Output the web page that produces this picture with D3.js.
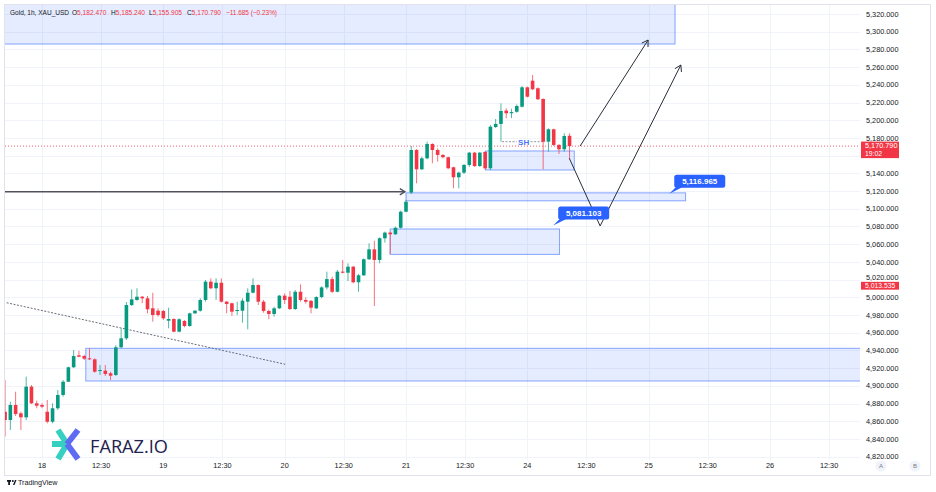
<!DOCTYPE html>
<html><head><meta charset="utf-8">
<script src="https://cdn.jsdelivr.net/npm/d3@7"></script>
<style>body{margin:0;background:#fff}svg{display:block;font-family:"Liberation Sans",Arial,sans-serif}</style>
</head><body><svg id="c" width="936" height="492"></svg>
<script>
// ---------- DATA ----------
const firstBar = -7; // bar index of first candle (0 = first bar of day 18)
const opens = [4870.8,4861.4,4878.4,4869.0,4864.5,4899.1,4880.3,4878.4,4870.8,4859.5,4874.7,4889.7,4904.7,4921.0,4934.5,4933.7,4931.1,4930.0,4917.2,4917.2,4914.2,4912.3,4943.6,4953.7,4991.3,4997.0,5000.7,4998.9,4987.6,4984.9,4984.6,4973.6,4975.5,4961.2,4973.3,4967.6,4981.9,4984.9,4997.0,5017.7,5010.2,5016.5,4995.1,4993.3,4984.6,4984.9,4995.1,5005.2,5013.9,4995.1,4984.6,4981.2,4987.6,5001.9,5000.7,4986.8,5006.3,4997.0,4996.0,4987.6,5000.3,5011.2,5020.6,5006.3,5029.0,5027.8,5034.6,5017.0,5024.9,5043.0,5054.2,5042.2,5066.7,5073.1,5071.2,5078.6,5096.7,5118.3,5166.4,5144.6,5157.0,5173.2,5166.4,5160.8,5158.2,5146.9,5135.6,5140.8,5149.5,5163.4,5148.3,5164.2,5145.8,5192.4,5195.8,5210.9,5207.9,5209.6,5215.3,5237.2,5244.7,5236.1,5224.0,5175.8,5189.8,5172.1,5167.2,5182.47];
const highs = [4906.6,4882.1,4893.4,4870.8,4910.4,4901.0,4883.3,4880.3,4884.0,4880.3,4895.3,4906.6,4921.7,4940.5,4939.7,4935.2,4942.4,4931.1,4923.6,4923.6,4916.0,4946.2,4965.0,4994.7,5008.9,5010.2,5001.5,5001.5,5005.1,4987.6,4985.7,4988.3,4976.3,4976.3,4974.4,4982.6,4985.7,4998.9,5019.6,5021.4,5021.4,5021.4,4995.9,4994.0,4995.1,4998.9,5010.2,5021.5,5014.6,4997.0,4986.0,4989.4,5002.6,5004.5,5007.2,5008.3,5014.6,5000.0,4997.0,5001.2,5012.5,5029.0,5023.3,5030.9,5042.2,5038.4,5035.4,5026.4,5044.1,5061.0,5064.0,5067.8,5074.2,5074.2,5079.8,5097.9,5110.0,5171.0,5167.5,5158.8,5175.8,5174.0,5168.3,5161.9,5158.8,5147.5,5142.0,5150.6,5164.2,5164.2,5164.2,5165.3,5194.6,5201.4,5219.1,5213.5,5213.0,5218.0,5238.7,5238.0,5251.1,5237.2,5224.8,5190.9,5190.5,5173.2,5185.3,5185.24];
const lows = [4842.7,4850.2,4866.0,4850.2,4861.4,4879.5,4874.7,4874.7,4857.7,4857.7,4872.8,4887.8,4904.4,4920.2,4932.3,4929.2,4929.2,4914.9,4912.3,4911.1,4906.6,4911.1,4942.4,4951.8,4990.2,4996.2,4993.3,4981.9,4972.5,4978.1,4974.4,4965.0,4960.5,4960.5,4966.1,4966.8,4981.2,4983.8,4995.1,5009.1,4997.0,4994.0,4981.9,4978.9,4980.0,4971.3,4963.9,5004.5,4991.3,4982.6,4975.2,4978.1,4986.8,4992.5,4985.7,4985.7,4995.1,4993.0,4981.9,4986.8,4999.0,5009.0,5004.9,5005.7,5027.1,5018.4,5015.9,5006.4,5024.1,5042.2,4990.2,5038.4,5061.7,5048.9,5070.5,5077.5,5096.0,5116.7,5128.8,5143.8,5155.9,5151.4,5153.2,5157.0,5144.6,5123.2,5123.2,5139.3,5147.2,5147.2,5147.2,5143.8,5143.8,5191.2,5175.8,5202.2,5202.5,5208.5,5214.4,5225.7,5234.2,5222.9,5144.6,5164.5,5170.9,5161.9,5164.5,5155.905];
const closes = [4861.4,4878.4,4868.2,4864.5,4899.1,4880.3,4877.6,4876.5,4859.5,4874.7,4889.7,4904.7,4921.0,4933.7,4932.9,4930.7,4930.0,4916.0,4917.9,4913.4,4911.5,4943.6,4953.7,4991.3,4997.7,5000.7,4998.9,4986.5,4980.0,4980.0,4976.3,4975.5,4961.2,4975.2,4967.6,4981.9,4984.9,4997.0,5017.7,5010.2,5016.5,4995.1,4992.5,4983.8,4985.7,4996.2,5005.2,5013.9,4995.1,4984.6,4981.2,4987.6,5001.9,4997.0,4986.8,5006.3,4997.0,4995.1,4988.3,5000.3,5011.2,5020.6,5006.3,5029.0,5027.8,5034.6,5017.0,5024.9,5043.0,5054.2,5042.2,5066.7,5073.1,5071.2,5078.6,5096.7,5108.0,5166.4,5144.6,5157.0,5173.2,5166.4,5160.8,5158.2,5145.8,5135.6,5140.8,5149.5,5163.4,5148.3,5163.4,5145.8,5192.7,5195.8,5210.5,5207.9,5209.2,5216.1,5237.2,5226.6,5235.0,5223.7,5175.8,5189.8,5172.1,5167.2,5182.2,5170.79];

const xTickIdx = [0,11.2,23,34.2,46,57.2,69,80.2,92,103.2,115,126.2,138,149.2];
const xTickLabels = ["18","12:30","19","12:30","20","12:30","21","12:30","24","12:30","25","12:30","26","12:30"];
const yTicks = [4820,4840,4860,4880,4900,4920,4940,4960,4980,5000,5020,5040,5060,5080,5100,5120,5140,5160,5180,5200,5220,5240,5260,5280,5300,5320];

// zones: [startBar, endBar, topPrice, bottomPrice]
const zones = [
  [-7.2, 120.0, 5336, 5286.1],
  [84.1, 100.9, 5165.3, 5143.8],
  [69.0, 122.0, 5118.0, 5109.0],
  [66.0, 98.1, 5077.2, 5048.5],
  [8.3, 170, 4942.4, 4905.5]
];
// drawn lines as [bar, price] points
const arrowUp1 = [[102.0, 5170.8],[114.9, 5290.6]];
const arrowUp2 = [[99.96, 5157.0],[105.8, 5080.6],[121.1, 5262.4]];
const arrowFlat = [[-7.2, 5119.3],[68.8, 5119.3]];
const trendLine = [[-6.7, 4993.9],[46.1, 4924.4]];
const shLevel = {from: 87.2, to: 95.4, mid: 91.3, price: 5175.8, text: "SH"};
const priceLabels = [{text:"5,116.965", bar:118.9, price:5116.965},{text:"5,081.103", bar:96.9, price:5081.103}];
const lastPrice = 5170.79, lastTime = "19:02";
const markPrice = 5013.535;
const header = [["Gold, 1h, XAU_USD",""],["O","5,182.470"],["H","5,185.240"],["L","5,155.905"],["C","5,170.790"],["","\u221211.685 (\u22120.23%)"]];

// ---------- DRAW ----------
const svg = d3.select("#c");
const P = {l:5, t:5, r:860, b:460};
const x = d3.scaleLinear().domain([0,138]).range([42,770]);
const y = d3.scaleLinear().domain([4820,5320]).range([456.7,14]);
const GREEN="#089981", RED="#f23645", BLUE="#2962ff", TXT="#131722";
const fmt = d3.format(",.3f");

svg.append("rect").attr("x",4.5).attr("y",4.5).attr("width",926).attr("height",471)
  .attr("fill","#fff").attr("stroke","#e0e3eb");

svg.append("defs").append("clipPath").attr("id","pc").append("rect")
  .attr("x",P.l).attr("y",P.t).attr("width",P.r-P.l).attr("height",P.b-P.t);

// grid
const grid = svg.append("g");
grid.selectAll("line.h").data(yTicks).join("line")
  .attr("x1",P.l).attr("x2",P.r).attr("y1",d=>Math.round(y(d))+0.5).attr("y2",d=>Math.round(y(d))+0.5)
  .attr("stroke","#f0f3fa");
grid.selectAll("line.v").data(xTickIdx).join("line")
  .attr("y1",P.t).attr("y2",P.b).attr("x1",d=>Math.round(x(d))+0.5).attr("x2",d=>Math.round(x(d))+0.5)
  .attr("stroke","#f0f3fa");

const plot = svg.append("g").attr("clip-path","url(#pc)");

// zones
plot.selectAll("rect.zone").data(zones).join("rect")
  .attr("x",d=>x(d[0])).attr("width",d=>x(d[1])-x(d[0]))
  .attr("y",d=>y(d[2])).attr("height",d=>y(d[3])-y(d[2]))
  .attr("fill","rgba(41,98,255,0.12)").attr("stroke","rgba(41,98,255,0.55)").attr("stroke-width",1);

// trend dotted line
const line = d3.line().x(d=>x(d[0])).y(d=>y(d[1]));
plot.append("path").attr("d",line(trendLine)).attr("fill","none")
  .attr("stroke","#6a6d78").attr("stroke-width",1).attr("stroke-dasharray","2,1.5");

// horizontal arrow
plot.append("path").attr("d",line(arrowFlat)).attr("fill","none").attr("stroke","#50535e").attr("stroke-width",1.4);

// current price line
plot.append("line").attr("x1",P.l).attr("x2",P.r).attr("y1",y(lastPrice)).attr("y2",y(lastPrice))
  .attr("stroke",RED).attr("stroke-width",0.8).attr("stroke-dasharray","1,2");

// SH level
const shY = y(shLevel.price);
plot.append("line").attr("x1",x(shLevel.from)).attr("x2",x(shLevel.mid)-7).attr("y1",shY).attr("y2",shY)
  .attr("stroke","#9598a1").attr("stroke-dasharray","2,1.5");
plot.append("line").attr("x1",x(shLevel.mid)+7).attr("x2",x(shLevel.to)).attr("y1",shY).attr("y2",shY)
  .attr("stroke","#9598a1").attr("stroke-dasharray","2,1.5");
plot.append("text").attr("x",x(shLevel.mid)).attr("y",shY+3).attr("text-anchor","middle")
  .attr("font-size",8).attr("font-weight","bold").attr("fill","#4a74f5").text(shLevel.text);

// candles
const bars = opens.map((o,i)=>({k:firstBar+i,o,h:highs[i],l:lows[i],c:closes[i]}));
const cg = plot.append("g");
cg.selectAll("line.w").data(bars).join("line")
  .attr("x1",d=>x(d.k)).attr("x2",d=>x(d.k)).attr("y1",d=>y(d.h)).attr("y2",d=>y(d.l))
  .attr("stroke",d=>d.c>=d.o?GREEN:RED).attr("stroke-opacity",0.7).attr("stroke-width",1);
cg.selectAll("rect.b").data(bars).join("rect")
  .attr("x",d=>x(d.k)-1.8).attr("width",3.6)
  .attr("y",d=>y(Math.max(d.o,d.c))).attr("height",d=>Math.max(1,Math.abs(y(d.o)-y(d.c))))
  .attr("fill",d=>d.c>=d.o?GREEN:RED);

// arrows
function chevron(g, p1, p2, len, color, w){
  const a = Math.atan2(p2[1]-p1[1], p2[0]-p1[0]);
  const pts = [-1,1].map(s=>[p2[0]-len*Math.cos(a+s*0.55), p2[1]-len*Math.sin(a+s*0.55)]);
  g.append("path").attr("d",`M${pts[0]}L${p2}L${pts[1]}`).attr("fill","none").attr("stroke",color).attr("stroke-width",w);
}
[arrowUp1, arrowUp2].forEach(a=>{
  plot.append("path").attr("d",line(a)).attr("fill","none").attr("stroke","#2a2e39").attr("stroke-width",1);
  const n=a.length;
  chevron(plot,[x(a[n-2][0]),y(a[n-2][1])],[x(a[n-1][0]),y(a[n-1][1])],7,"#2a2e39",1);
});
chevron(plot,[x(arrowFlat[0][0]),y(arrowFlat[0][1])],[x(arrowFlat[1][0]),y(arrowFlat[1][1])],6,"#50535e",1.4);

// price bubble labels
priceLabels.forEach(p=>{
  const px=x(p.bar), py=y(p.price);
  const bx=px+5, by=py-19, bw=51, bh=13;
  const g=svg.append("g");
  g.append("path").attr("d",`M${px},${py}L${bx+2},${by+bh-1}L${bx+9},${by+bh-1}Z`).attr("fill",BLUE);
  g.append("rect").attr("x",bx).attr("y",by).attr("width",bw).attr("height",bh).attr("rx",2.5).attr("fill",BLUE);
  g.append("text").attr("x",bx+bw/2).attr("y",by+9.5).attr("text-anchor","middle")
    .attr("font-size",8).attr("font-weight","bold").attr("fill","#fff").text(p.text);
});

// y axis labels (labels hidden behind the last-price tag are skipped)
const ly=y(lastPrice), my=y(markPrice);
svg.append("g").selectAll("text").data(yTicks.filter(d=>Math.abs(y(d)-(ly+3.5))>9)).join("text")
  .attr("x",866).attr("y",d=>y(d)+(d===5020?0.6:2.6)).attr("font-size",7.3).attr("fill",TXT).text(d=>fmt(d));

// last price label
svg.append("rect").attr("x",861).attr("y",ly-4.5).attr("width",38).attr("height",16.5).attr("fill",RED);
svg.append("text").attr("x",865).attr("y",ly+2.2).attr("font-size",7.3).attr("fill","#fff").text(fmt(lastPrice));
svg.append("text").attr("x",865).attr("y",ly+10).attr("font-size",6.8).attr("fill","#fff").text(lastTime);
svg.append("rect").attr("x",861).attr("y",my-3.5).attr("width",38).attr("height",7.8).attr("fill",RED);
svg.append("text").attr("x",865).attr("y",my+2.9).attr("font-size",6.8).attr("fill","#fff").text(fmt(markPrice));

// x axis labels
svg.append("g").selectAll("text").data(xTickIdx).join("text")
  .attr("x",d=>x(d)).attr("y",468).attr("text-anchor","middle").attr("font-size",7.3).attr("fill",TXT)
  .text((d,i)=>xTickLabels[i]);
["A","B"].forEach((t,i)=>{
  svg.append("circle").attr("cx",881+i*34).attr("cy",466).attr("r",5.5).attr("fill","#f0f3fa");
  svg.append("text").attr("x",881+i*34).attr("y",468.3).attr("text-anchor","middle").attr("font-size",6).attr("fill","#787b86").text(t);
});

// header segments at the reference's positions and widths
const hPos = [[10,59,6.8],[72,34.4,7],[111,34,7],[149,33,7],[187,34,7],[226,51,7]];
header.forEach((h,i)=>{
  const t=svg.append("text").attr("x",hPos[i][0]).attr("y",15).attr("font-size",hPos[i][2])
    .attr("textLength",hPos[i][1]).attr("lengthAdjust","spacingAndGlyphs");
  t.append("tspan").attr("fill",TXT).text(h[0]);
  if(h[1]) t.append("tspan").attr("fill",RED).text(h[1]);
});

// FARAZ.IO logo
const lg=svg.append("g").attr("stroke-width",6).attr("stroke-linecap","butt").attr("fill","none");
lg.append("line").attr("x1",52).attr("y1",444).attr("x2",70).attr("y2",444).attr("stroke","#35d0c2");
lg.append("line").attr("x1",58).attr("y1",430).attr("x2",67).attr("y2",444).attr("stroke","#35d0c2");
lg.append("line").attr("x1",67).attr("y1",444).attr("x2",58).attr("y2",459).attr("stroke","#35d0c2");
lg.append("line").attr("x1",67).attr("y1",444).attr("x2",78).attr("y2",430).attr("stroke","#5e6cf2");
lg.append("line").attr("x1",67).attr("y1",444).attr("x2",78).attr("y2",459).attr("stroke","#5e6cf2");
svg.append("text").attr("x",90).attr("y",453).attr("font-family","'Open Sans',sans-serif").attr("font-size",17.5)
  .attr("textLength",78).attr("lengthAdjust","spacingAndGlyphs").attr("fill","#24224f").text("FARAZ.IO");

// footer TradingView
const tv=svg.append("g").attr("fill","#131722");
tv.append("rect").attr("x",7).attr("y",480).attr("width",4).attr("height",1.8);
tv.append("rect").attr("x",8.2).attr("y",480).attr("width",1.8).attr("height",5);
tv.append("circle").attr("cx",12.8).attr("cy",481).attr("r",1);
tv.append("path").attr("d","M13,485L15,480L16.5,480L14.5,485Z");
svg.append("text").attr("x",18).attr("y",485).attr("font-size",7.2).attr("fill","#131722").text("TradingView");
</script></body></html>
